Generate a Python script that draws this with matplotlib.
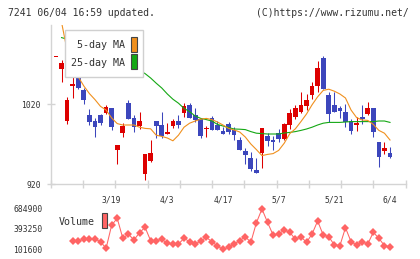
import numpy as np
import matplotlib
matplotlib.use("Agg")
import matplotlib.pyplot as plt
from matplotlib.patches import Rectangle

# ---------------- data ----------------
date_labels = ["3/19", "4/3", "4/17", "5/7", "5/21", "6/4"]
date_index = [10, 20, 30, 40, 50, 60]

opens = [1079, 1063.75, 999, 1042, 1059.5, 1037, 1006, 999, 1006, 1009,
         1014.5, 963, 983.5, 1021.5, 1002, 993, 932, 948.75, 998.75, 993.75,
         982.5, 992.5, 999, 1009, 1018.75, 1006, 1001, 988.5, 1002, 993.75,
         986.25, 995, 987.5, 975, 961.25, 952, 937.5, 959, 980, 975,
         983.5, 976.25, 993.75, 1003.5, 1009.5, 1018, 1031.25, 1042.5, 1077, 1031.25,
         1018.75, 1015, 1009.5, 998.75, 994, 1004, 1007.5, 1014.5, 972, 961.5,
         958.5]
highs = [1079, 1075, 1029, 1058, 1065, 1039.5, 1013.5, 1003, 1007.5, 1018.5,
         1014.5, 968.5, 996, 1025, 1006, 1010, 957.5, 975, 998.75, 1010,
         996.5, 1001.25, 1006, 1021, 1021.5, 1014.5, 1001, 992.5, 1005.5, 998.75,
         991.5, 998, 991.5, 978.5, 964.5, 960.5, 952, 990.5, 984, 980,
         988.5, 996, 1013.5, 1018.75, 1035.5, 1032.5, 1047, 1073.75, 1080, 1035.5,
         1035.5, 1017.5, 1020, 1001.25, 1003.5, 1018.75, 1022, 1014.5, 972, 972,
         966]
lows = [1079, 1048, 995, 1028, 1039, 1020.5, 993.5, 979, 993.5, 1007,
        987, 945.5, 978.5, 1001, 985.5, 988.5, 925.5, 948, 978, 977,
        982.5, 989.5, 989.5, 1004, 1002, 997, 978, 979, 988, 988,
        982.5, 982.5, 975, 962.5, 945, 936.5, 934, 940.5, 968, 962.5,
        972.5, 975, 988.75, 1001, 1008.5, 1012.5, 1026.25, 1035.5, 1038.75, 998,
        1010.5, 1002, 991, 982.5, 986.5, 995, 1006.25, 979, 941.5, 957.5,
        952]
closes = [1079, 1071, 1025, 1044.5, 1039.5, 1025, 998, 991.5, 996.5, 1016,
          991.5, 968.5, 992.5, 1001.25, 991.5, 999, 957.5, 958.75, 993, 980,
          985, 999, 993.5, 1017.5, 1003, 1000, 980.5, 990.5, 988, 988,
          982.5, 985.5, 981.25, 962.5, 956.25, 938.75, 934, 990.5, 974, 973,
          976.25, 995, 1008.5, 1014.5, 1018.75, 1025, 1042.5, 1064.5, 1038.75, 1007.5,
          1010.5, 1011.5, 997, 986.5, 996.5, 1001.25, 1014.5, 985.5, 953.5, 965.5,
          954]

ma5 = [np.nan, 1122, 1087, 1069, 1054, 1042.5, 1033, 1025.5, 1017, 1012.5,
       1002.5, 995.5, 993.75, 993.75, 993.75, 991, 989.5, 989, 981, 979.5,
       977.5, 974, 981, 991, 996, 998.75, 1001, 1002, 1000.5, 997.5,
       993.75, 989.5, 987.5, 985, 978.75, 970, 963, 955.5, 957, 958,
       962, 971, 983, 989, 998, 1007.5, 1019, 1029, 1037, 1038.5,
       1036, 1032.5, 1027.5, 1012.5, 1003, 1000, 999.5, 994.5, 987, 983.5,
       975]
ma25 = [np.nan, 1103, 1101, 1099, 1096, 1093, 1090, 1087, 1084, 1081,
        1078, 1075, 1072, 1068.5, 1065, 1062, 1058, 1052.5, 1046, 1040,
        1032.5, 1026, 1021, 1014.5, 1010.5, 1005, 1002, 1000.5, 998.75, 994.5,
        992.5, 990.5, 988.75, 988.5, 988, 985.5, 983.5, 983, 982.5, 982.5,
        982.5, 983.75, 984.5, 985.5, 987, 988.75, 991, 993.75, 996, 997,
        997, 997, 997.5, 998, 998, 998, 998, 998, 998.75, 998.75,
        997]

volume = [np.nan, np.nan, np.nan, 218000, 218000, 247000, 247000, 247000, 208000, 112000,
          450000, 549000, 258000, 320000, 233000, 339000, 418000, 223000, 223000, 243000,
          185000, 174000, 174000, 258000, 208000, 174000, 218000, 272000, 208000, 145000,
          97000, 126000, 174000, 223000, 281000, 199000, 485000, 685000, 490000, 306000,
          320000, 379000, 345000, 243000, 281000, 199000, 320000, 510000, 306000, 281000,
          160000, 150000, 412000, 208000, 160000, 208000, 174000, 345000, 258000, 150000,
          135000]

price_ticks = [920, 1020]
volume_ticks = [101600, 393250, 684900]

# ---------------- layout ----------------
W, H, DPI = 420, 259, 100
fig = plt.figure(figsize=(W / DPI, H / DPI), dpi=DPI)
fig.patch.set_facecolor("white")

def fx(px):
    return px / W

def fy(py):
    return 1 - py / H

MONO = "DejaVu Sans Mono"
RED = "#dd0000"
BLUE = "#3c46bc"
ORANGE = "#f0901e"
GREEN = "#14a814"
VOLC = "#ff6464"
AXC = "#d4d4d4"
TXT = "#333333"

L, R = 50.7, 405.7
ax = fig.add_axes([fx(L), fy(184), fx(R) - fx(L), fy(25) - fy(184)])
axv = fig.add_axes([fx(L), fy(254), fx(R) - fx(L), fy(204) - fy(254)])

n = len(opens)
x = np.arange(n)
x0, x1 = -0.952, 62.82

# candles
for i in range(n):
    o, h, l, c = opens[i], highs[i], lows[i], closes[i]
    col = RED if c >= o else BLUE
    ax.vlines(x[i], l, h, color=col, lw=0.75, zorder=2)
    bot = min(o, c)
    ht = max(abs(c - o), 1.6)
    if abs(c - o) < 1.6:
        bot = (o + c) / 2 - 0.8
    ax.add_patch(Rectangle((x[i] - 0.42, bot), 0.84, ht, facecolor=col,
                           edgecolor="none", zorder=3))

ax.plot(x, ma25, color=GREEN, lw=0.8, zorder=4)
ax.plot(x, ma5, color=ORANGE, lw=0.8, zorder=4)

ax.set_xlim(x0, x1)
ax.set_ylim(920, 1118.75)
for s in ["top", "right"]:
    ax.spines[s].set_visible(False)
for s in ["left", "bottom"]:
    ax.spines[s].set_color(AXC)
    ax.spines[s].set_linewidth(1.0)
ax.spines["bottom"].set_bounds(x0, x1)

ax.set_yticks(price_ticks)
ax.set_yticklabels([str(t) for t in price_ticks], fontfamily=MONO, fontsize=5.8, color=TXT)
ax.tick_params(axis="y", direction="inout", length=6, width=1, color=AXC, pad=4)

grid_x = np.linspace(x0, x1, 12)
ax.set_xticks(grid_x, minor=True)
ax.set_xticks(date_index)
ax.set_xticklabels(date_labels, fontfamily=MONO, fontsize=5.8, color=TXT)
ax.tick_params(axis="x", which="major", length=0, pad=8)
ax.tick_params(axis="x", which="minor", direction="inout", length=5.5, width=1, color=AXC)

# volume
axv.plot(x, volume, color=VOLC, lw=0.75, marker="D", markersize=4.0,
         markeredgewidth=0, markerfacecolor=VOLC, zorder=3)
axv.set_xlim(x0, x1)
axv.set_ylim(28688, 757812)
for s in axv.spines.values():
    s.set_visible(False)
axv.set_xticks([])
axv.set_yticks(volume_ticks)
axv.set_yticklabels([str(t) for t in volume_ticks], fontfamily=MONO, fontsize=5.8, color=TXT)
axv.tick_params(axis="y", length=0, pad=6)

# header texts
fig.text(fx(8), fy(13), "7241 06/04 16:59 updated.", fontfamily=MONO, fontsize=7.0,
         color=TXT, va="center", ha="left")
fig.text(fx(409), fy(13), "(C)https://www.rizumu.net/", fontfamily=MONO, fontsize=7.0,
         color=TXT, va="center", ha="right")

# MA legend
fig.add_artist(Rectangle((fx(65), fy(77.3)), fx(143.3) - fx(65), fy(30) - fy(77.3),
                         transform=fig.transFigure, facecolor="white",
                         edgecolor="#d0d0d0", lw=1.0, zorder=5))
fig.text(fx(125), fy(45.5), "5-day MA", fontfamily=MONO, fontsize=7.2, color=TXT,
         ha="right", va="center", zorder=6)
fig.text(fx(125), fy(62.5), "25-day MA", fontfamily=MONO, fontsize=7.2, color=TXT,
         ha="right", va="center", zorder=6)
fig.add_artist(Rectangle((fx(131), fy(51.7)), fx(137.3) - fx(131), fy(37.3) - fy(51.7),
                         transform=fig.transFigure, facecolor=ORANGE,
                         edgecolor="#444444", lw=0.8, zorder=6))
fig.add_artist(Rectangle((fx(131), fy(69)), fx(137.3) - fx(131), fy(54.3) - fy(69),
                         transform=fig.transFigure, facecolor=GREEN,
                         edgecolor="#444444", lw=0.8, zorder=6))

# volume legend
fig.text(fx(95), fy(222.3), "Volume", fontfamily=MONO, fontsize=7.2, color=TXT,
         ha="right", va="center", zorder=6)
fig.add_artist(Rectangle((fx(101.7), fy(228.3)), fx(107.3) - fx(101.7), fy(213.3) - fy(228.3),
                         transform=fig.transFigure, facecolor=VOLC,
                         edgecolor="#444444", lw=0.8, zorder=6))

fig.savefig("out.png", dpi=DPI, facecolor="white")
